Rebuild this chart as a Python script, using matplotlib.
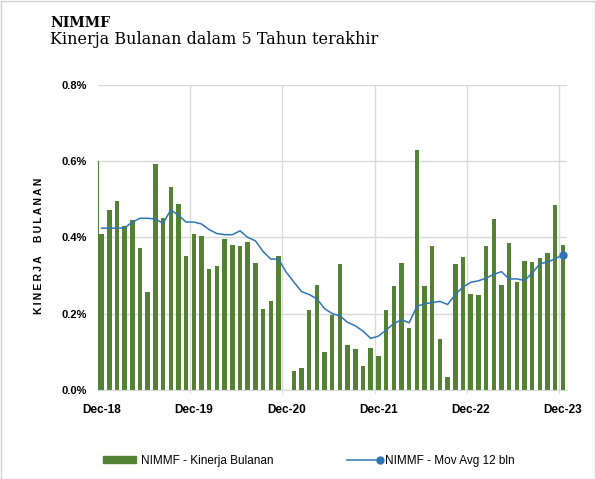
import numpy as np
import matplotlib
matplotlib.use('Agg')
import matplotlib.pyplot as plt
from matplotlib.patches import Rectangle
from matplotlib.lines import Line2D
from matplotlib.legend_handler import HandlerLine2D

# monthly performance (%), Dec-18 .. Dec-23
kinerja = [0.409, 0.471, 0.495, 0.429, 0.445, 0.372, 0.256, 0.591, 0.452, 0.531,
           0.488, 0.350, 0.408, 0.403, 0.318, 0.325, 0.396, 0.379, 0.376, 0.389,
           0.332, 0.212, 0.233, 0.350, -0.004, 0.050, 0.057, 0.210, 0.276, 0.099,
           0.196, 0.329, 0.119, 0.106, 0.063, 0.110, 0.090, 0.209, 0.272, 0.332,
           0.163, 0.628, 0.272, 0.376, 0.133, 0.033, 0.329, 0.349, 0.252, 0.249,
           0.376, 0.449, 0.276, 0.385, 0.283, 0.338, 0.336, 0.345, 0.358, 0.485,
           0.379]
mov_avg = [0.424, 0.424, 0.424, 0.425, 0.440, 0.450, 0.450, 0.448, 0.437, 0.472,
           0.458, 0.440, 0.440, 0.435, 0.420, 0.410, 0.407, 0.407, 0.417, 0.400,
           0.391, 0.363, 0.343, 0.343, 0.309, 0.283, 0.258, 0.250, 0.239, 0.213,
           0.200, 0.194, 0.177, 0.168, 0.154, 0.135, 0.141, 0.157, 0.174, 0.184,
           0.176, 0.219, 0.226, 0.229, 0.232, 0.224, 0.250, 0.270, 0.282, 0.286,
           0.293, 0.303, 0.310, 0.291, 0.291, 0.287, 0.306, 0.331, 0.335, 0.344,
           0.354]
year_labels = ['Dec-18', 'Dec-19', 'Dec-20', 'Dec-21', 'Dec-22', 'Dec-23']

green = '#548235'
blue = '#2E75B6'
grid = '#D9D9D9'


class EndMarkerHandler(HandlerLine2D):
    # legend line with the marker only at its right end
    def create_artists(self, legend, orig_handle, xdescent, ydescent, width, height,
                       fontsize, trans):
        y = height / 2 - ydescent
        line = Line2D([-xdescent, width - xdescent], [y, y], color=orig_handle.get_color(),
                      lw=orig_handle.get_linewidth())
        mark = Line2D([width - xdescent], [y], color=orig_handle.get_color(), marker='o',
                      ms=orig_handle.get_markersize(), lw=0)
        line.set_transform(trans)
        mark.set_transform(trans)
        return [line, mark]


fig = plt.figure(figsize=(5.96, 4.79), dpi=100)
fig.patches.append(Rectangle((0.001, 0.001), 0.997, 0.997, transform=fig.transFigure,
                             fill=False, edgecolor='#D0D0D0', lw=1))

fig.text(0.084, 0.967, 'NIMMF', family='DejaVu Serif', fontweight='bold',
         fontsize=10, va='top')
fig.text(0.084, 0.935, 'Kinerja Bulanan dalam 5 Tahun terakhir', family='DejaVu Serif',
         fontsize=11.5, va='top')

ax = fig.add_axes([0.164, 0.186, 0.787, 0.637])
x = np.arange(len(kinerja))
colors = [green if v >= 0 else '#FF7C80' for v in kinerja]
ax.bar(x, kinerja, width=0.58, color=colors, zorder=2)
ax.plot(x, mov_avg, color=blue, lw=1.1, zorder=3)
ax.plot(x[-1:], mov_avg[-1:], 'o', color=blue, ms=5, zorder=4)

ax.set_xlim(-0.5, len(kinerja) - 0.5)
ax.set_ylim(0, 0.8)
ax.set_yticks([0, 0.2, 0.4, 0.6, 0.8])
ax.set_yticklabels(['0.0%', '0.2%', '0.4%', '0.6%', '0.8%'], fontweight='bold',
                   fontsize=8, family='Liberation Sans')
ax.set_xticks(x[::12])
ax.set_xticklabels(year_labels, fontweight='bold', fontsize=8.5, family='Liberation Sans')
ax.set_xticks(x[::12][1:] - 0.5, minor=True)
ax.tick_params(axis='x', which='major', length=0, pad=10)
ax.tick_params(axis='x', which='minor', length=3, color=grid)
ax.tick_params(axis='y', length=0, pad=8)
ax.grid(axis='y', color=grid, lw=1, zorder=0)
ax.grid(axis='x', which='minor', color=grid, lw=1, zorder=0)
for s in ['top', 'right']:
    ax.spines[s].set_visible(False)
ax.spines['bottom'].set_color(grid)
ax.spines['left'].set_color(green)
ax.spines['left'].set_bounds(0, 0.6)

ax.set_ylabel('K\u2009I\u2009N\u2009E\u2009R\u2009J\u2009A\u2003 B\u2009U\u2009L\u2009A\u2009N\u2009A\u2009N',
              fontweight='bold', fontsize=7.5, family='Liberation Sans')
ax.yaxis.set_label_coords(-0.115, 0.472)

handles = [Rectangle((0, 0), 1, 1, color=green),
           Line2D([0], [0], color=blue, lw=1.1, marker='o', ms=5)]
fig.legend(handles, ['NIMMF - Kinerja Bulanan', 'NIMMF - Mov Avg 12 bln'],
           loc='center', bbox_to_anchor=(0.518, 0.038), ncol=2, frameon=False,
           prop={'family': 'Liberation Sans', 'size': 8.5}, handlelength=2.8,
           handletextpad=0.45, columnspacing=6.2, handleheight=0.6,
           handler_map={Line2D: EndMarkerHandler()})

fig.savefig('out.png', dpi=100)
